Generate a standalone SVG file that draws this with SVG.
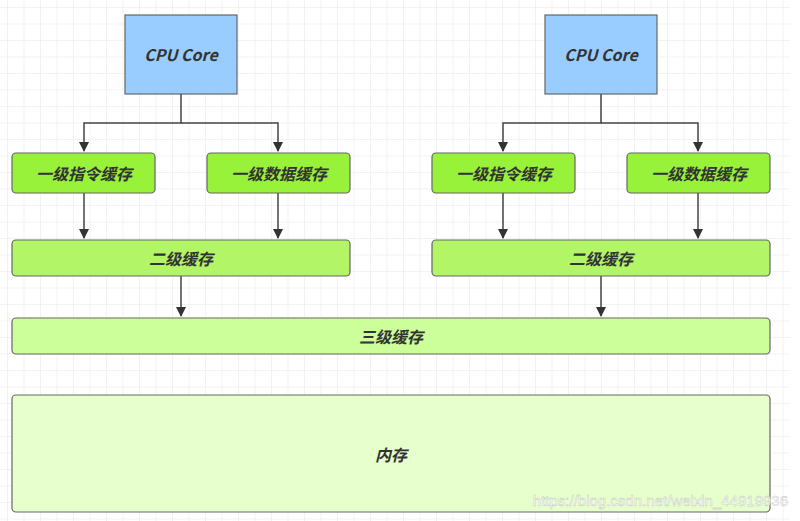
<svg xmlns="http://www.w3.org/2000/svg" width="800" height="521" viewBox="0 0 800 521">
<defs>
<pattern id="grid" width="16.5" height="16.5" patternUnits="userSpaceOnUse" x="8" y="8">
<path d="M16.5 0V16.5M0 16.5H16.5" fill="none" stroke="#e6e6e6" stroke-width="1"/>
</pattern>
<marker id="arr" viewBox="0 0 10 10" refX="9" refY="5" markerWidth="10" markerHeight="10" markerUnits="userSpaceOnUse" orient="auto">
<path d="M0 0L10 5L0 10z" fill="#333"/>
</marker>
<style>
.box{stroke:#666;stroke-width:1.2}
.cpu{fill:#99ccff}
.l1{fill:#99f23a}
.l2{fill:#b2f566}
.l3{fill:#ccff99}
.mem{fill:#e6ffcc}
.t{font-family:"Noto Sans CJK SC","Liberation Sans",sans-serif;font-style:italic;font-weight:bold;font-size:16px;fill:#333;text-anchor:middle;dominant-baseline:central}
.c{stroke:#444;stroke-width:1.5;fill:none}
</style>
</defs>
<rect width="800" height="521" fill="#fff"/>
<rect x="0" y="0" width="790" height="521" fill="url(#grid)"/>
<g id="connectors">
<path class="c" d="M181 94V123H84V151" marker-end="url(#arr)"/>
<path class="c" d="M181 123H278V151" marker-end="url(#arr)"/>
<path class="c" d="M601 94V123H503V151" marker-end="url(#arr)"/>
<path class="c" d="M601 123H698V151" marker-end="url(#arr)"/>
<path class="c" d="M84 193V238" marker-end="url(#arr)"/>
<path class="c" d="M278 193V238" marker-end="url(#arr)"/>
<path class="c" d="M503 193V238" marker-end="url(#arr)"/>
<path class="c" d="M698 193V238" marker-end="url(#arr)"/>
<path class="c" d="M181 276V316" marker-end="url(#arr)"/>
<path class="c" d="M601 276V316" marker-end="url(#arr)"/>
</g>
<g id="cpu1"><rect class="box cpu" x="125" y="15" width="112" height="79"/><text class="t" x="181" y="54">CPU Core</text></g>
<g id="cpu2"><rect class="box cpu" x="545" y="15" width="112" height="79"/><text class="t" x="601" y="54">CPU Core</text></g>
<g id="l1i1"><rect class="box l1" x="12" y="153" width="143" height="40" rx="4"/><text class="t" x="84" y="173">一级指令缓存</text></g>
<g id="l1d1"><rect class="box l1" x="207" y="153" width="143" height="40" rx="4"/><text class="t" x="279" y="173">一级数据缓存</text></g>
<g id="l1i2"><rect class="box l1" x="432" y="153" width="143" height="40" rx="4"/><text class="t" x="504" y="173">一级指令缓存</text></g>
<g id="l1d2"><rect class="box l1" x="627" y="153" width="143" height="40" rx="4"/><text class="t" x="699" y="173">一级数据缓存</text></g>
<g id="l2a"><rect class="box l2" x="12" y="240" width="338" height="36" rx="4"/><text class="t" x="181" y="258">二级缓存</text></g>
<g id="l2b"><rect class="box l2" x="432" y="240" width="338" height="36" rx="4"/><text class="t" x="601" y="258">二级缓存</text></g>
<g id="l3"><rect class="box l3" x="12" y="318" width="758" height="36" rx="4"/><text class="t" x="391" y="336">三级缓存</text></g>
<g id="mem"><rect class="box mem" x="12" y="395" width="758" height="117" rx="4"/><text class="t" x="391" y="454">内存</text></g>
<text x="788" y="506" font-family="Liberation Sans,sans-serif" font-size="15" fill="#ffffff" stroke="#bbb" stroke-width="0.4" text-anchor="end" opacity="0.9">https://blog.csdn.net/weixin_44919936</text>
</svg>
